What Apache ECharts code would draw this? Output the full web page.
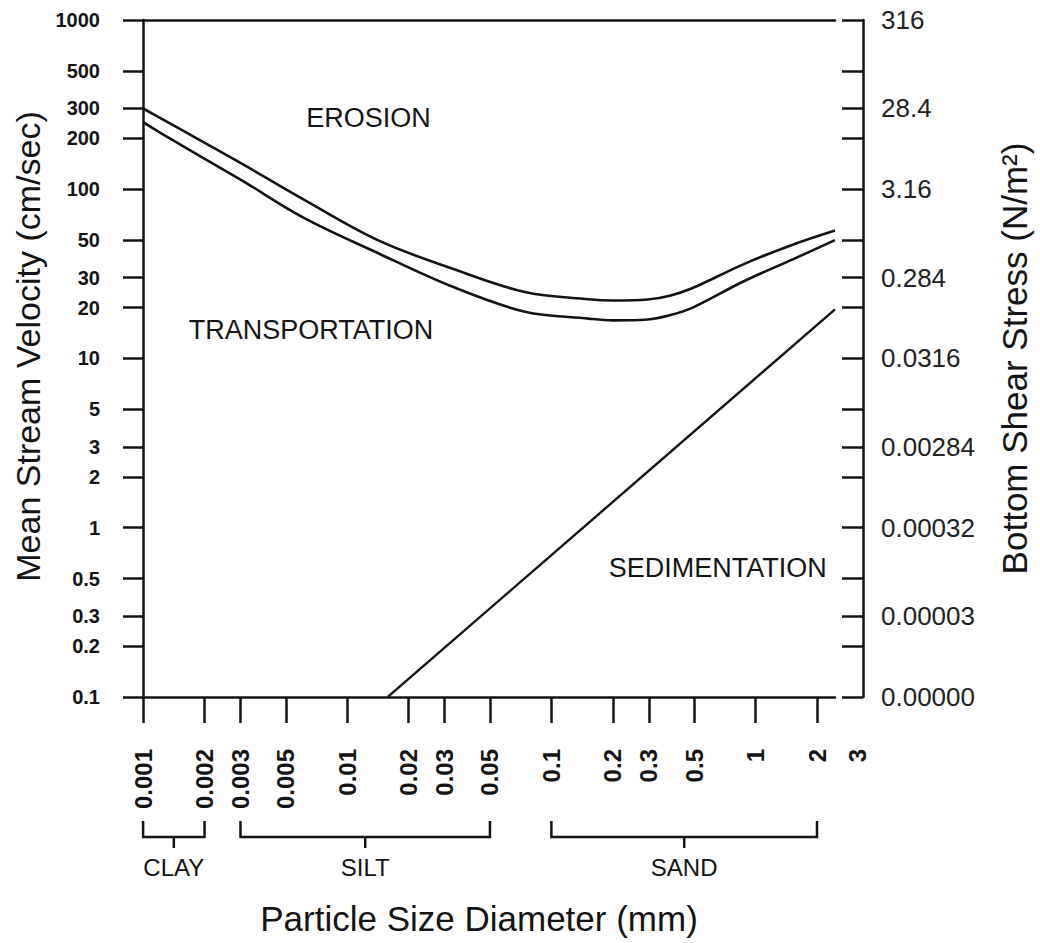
<!DOCTYPE html>
<html><head><meta charset="utf-8">
<script src="https://cdn.jsdelivr.net/npm/echarts@6/dist/echarts.min.js"></script>
<style>html,body{margin:0;padding:0;background:#fff}#c{width:1040px;height:943px}</style>
</head><body><div id="c"></div>
<script>
// ---- data ----
const particleSize      = [0.001, 0.0013, 0.003, 0.0061, 0.0141, 0.0326, 0.0742, 0.152, 0.2, 0.296, 0.38, 0.489, 0.871, 1.52, 2.45];
const erosionVelocity   = [300, 252, 143, 87, 50, 34, 24.7, 22.4, 22.0, 22.3, 23.5, 26.0, 36, 47, 57];
const transportVelocity = [249, 205, 114, 68, 42, 26.6, 18.9, 17.2, 16.8, 17.0, 18.0, 19.9, 28.5, 38.5, 50];
const sedimentSize      = [0.0158, 2.45];
const sedimentVelocity  = [0.1, 19.5];
const velocityTicks     = [1000, 500, 300, 200, 100, 50, 30, 20, 10, 5, 3, 2, 1, 0.5, 0.3, 0.2, 0.1];
const shearTickValues   = [1000, 300, 100, 30, 10, 3, 1, 0.3, 0.1];
const shearTickLabels   = ['316', '28.4', '3.16', '0.284', '0.0316', '0.00284', '0.00032', '0.00003', '0.00000'];
const sizeTicks         = [0.001, 0.002, 0.003, 0.005, 0.01, 0.02, 0.03, 0.05, 0.1, 0.2, 0.3, 0.5, 1, 2];
const extraSizeTicks    = [3];
const classNames        = ['CLAY', 'SILT', 'SAND'];
const classFrom         = [0.001, 0.003, 0.1];
const classTo           = [0.002, 0.05, 2];
const regionNames       = ['EROSION', 'TRANSPORTATION', 'SEDIMENTATION'];
const regionSize        = [0.0127, 0.00664, 0.653];
const regionVelocity    = [264, 14.7, 0.578];

const FONT = '"Liberation Sans", Arial, Helvetica, sans-serif';
const INK = '#141414';

function nearest(list, v) {
  let best = list[0], bd = Infinity;
  list.forEach(x => { const d = Math.abs(Math.log(x) - Math.log(v)); if (d < bd) { bd = d; best = x; } });
  return best;
}

const chart = echarts.init(document.getElementById('c'), null, {renderer: 'svg'});
chart.setOption({
  animation: false,
  backgroundColor: '#fff',
  grid: [
    {left: 143, right: 200, top: 20, bottom: 246},
    {left: 143, right: 182, top: 20, bottom: 246}
  ],
  xAxis: [
    {
      type: 'log', gridIndex: 0, min: 0.000999, max: 2.45,
      name: 'Particle Size Diameter (mm)', nameLocation: 'middle', nameGap: 204,
      nameTextStyle: {fontFamily: FONT, fontSize: 35, color: INK, padding: [0, 20, 0, 0]},
      axisLine: {show: true, lineStyle: {color: INK, width: 2.5}},
      axisTick: {show: true, customValues: sizeTicks, length: 26, lineStyle: {color: INK, width: 2.5}},
      axisLabel: {show: true, customValues: sizeTicks, rotate: 90, margin: 52,
        fontFamily: FONT, fontSize: 24, fontWeight: 'bold', color: INK,
        formatter: v => String(nearest(sizeTicks, v))},
      splitLine: {show: false}, minorTick: {show: false}
    },
    {
      type: 'log', gridIndex: 0, position: 'top', min: 0.000999, max: 2.45,
      axisLine: {show: true, lineStyle: {color: INK, width: 2.5}},
      axisTick: {show: false}, axisLabel: {show: false}, splitLine: {show: false}
    },
    {
      type: 'log', gridIndex: 1, min: 0.000999, max: 3.001,
      axisLine: {show: false}, axisTick: {show: false}, splitLine: {show: false},
      axisLabel: {show: true, customValues: extraSizeTicks, rotate: 90, margin: 52,
        fontFamily: FONT, fontSize: 24, fontWeight: 'bold', color: INK,
        formatter: v => String(nearest(extraSizeTicks, v))}
    }
  ],
  yAxis: [
    {
      type: 'log', gridIndex: 0, position: 'left', min: 0.0999, max: 1000.1,
      name: 'Mean Stream Velocity (cm/sec)', nameLocation: 'middle', nameGap: 98, nameRotate: 90,
      nameTextStyle: {fontFamily: FONT, fontSize: 34, color: INK, padding: [0, 0, 0, 24]},
      axisLine: {show: true, lineStyle: {color: INK, width: 2.5}},
      axisTick: {show: true, customValues: velocityTicks, length: 20, lineStyle: {color: INK, width: 2.5}},
      axisLabel: {show: true, customValues: velocityTicks, margin: 43,
        fontFamily: FONT, fontSize: 20, fontWeight: 'bold', color: INK,
        formatter: v => String(nearest(velocityTicks, v))},
      splitLine: {show: false}
    },
    {
      type: 'log', gridIndex: 0, position: 'right', offset: 28, min: 0.0999, max: 1000.1,
      name: 'Bottom Shear Stress (N/m²)', nameLocation: 'middle', nameGap: 134, nameRotate: 90,
      nameTextStyle: {fontFamily: FONT, fontSize: 35, color: INK},
      axisLine: {show: true, lineStyle: {color: INK, width: 2.5}},
      axisTick: {show: true, inside: true, customValues: velocityTicks, length: 21, lineStyle: {color: INK, width: 2.5}},
      axisLabel: {show: true, customValues: shearTickValues, margin: 18,
        fontFamily: FONT, fontSize: 26, color: '#222',
        formatter: v => shearTickLabels[shearTickValues.indexOf(nearest(shearTickValues, v))]},
      splitLine: {show: false}
    },
    {type: 'log', gridIndex: 1, min: 0.0999, max: 1000.1, show: false}
  ],
  series: [
    {
      name: 'Erosion threshold', type: 'line', xAxisIndex: 0, yAxisIndex: 0,
      data: particleSize.map((d, i) => [d, erosionVelocity[i]]),
      smooth: 0.35, showSymbol: false, silent: true,
      lineStyle: {color: INK, width: 2.6}
    },
    {
      name: 'Transport threshold', type: 'line', xAxisIndex: 0, yAxisIndex: 0,
      data: particleSize.map((d, i) => [d, transportVelocity[i]]),
      smooth: 0.35, showSymbol: false, silent: true,
      lineStyle: {color: INK, width: 2.6}
    },
    {
      name: 'Settling', type: 'line', xAxisIndex: 0, yAxisIndex: 0,
      data: sedimentSize.map((d, i) => [d, sedimentVelocity[i]]),
      showSymbol: false, silent: true,
      lineStyle: {color: INK, width: 2.4}
    },
    {
      name: 'Regions', type: 'custom', xAxisIndex: 0, yAxisIndex: 0, clip: false, silent: true,
      data: regionNames.map((n, i) => [regionSize[i], regionVelocity[i]]),
      encode: {x: 0, y: 1},
      renderItem: function (params, api) {
        const p = api.coord([api.value(0), api.value(1)]);
        return {type: 'text', x: p[0], y: p[1],
          style: {text: regionNames[params.dataIndex], align: 'center', verticalAlign: 'middle',
            fill: INK, font: '27px ' + FONT}};
      }
    },
    {
      name: 'Size classes', type: 'custom', xAxisIndex: 0, yAxisIndex: 0, clip: false, silent: true,
      data: classNames.map((n, i) => [classFrom[i], classTo[i]]),
      encode: {x: [0, 1]},
      renderItem: function (params, api) {
        const x0 = api.coord([api.value(0), 1])[0];
        const x1 = api.coord([api.value(1), 1])[0];
        const base = params.coordSys.y + params.coordSys.height;
        const top = base + 124, bar = base + 140, stem = base + 151, lab = base + 170;
        const mid = (x0 + x1) / 2;
        return {
          type: 'group', children: [
            {type: 'polyline', shape: {points: [[x0, top], [x0, bar], [x1, bar], [x1, top]]},
              style: {stroke: INK, lineWidth: 2.5, fill: 'none'}},
            {type: 'line', shape: {x1: mid, y1: bar, x2: mid, y2: stem},
              style: {stroke: INK, lineWidth: 2.5}},
            {type: 'text', x: mid, y: lab,
              style: {text: classNames[params.dataIndex], align: 'center', verticalAlign: 'middle',
                fill: INK, font: '24px ' + FONT}}
          ]
        };
      }
    }
  ]
});
</script>
</body></html>
